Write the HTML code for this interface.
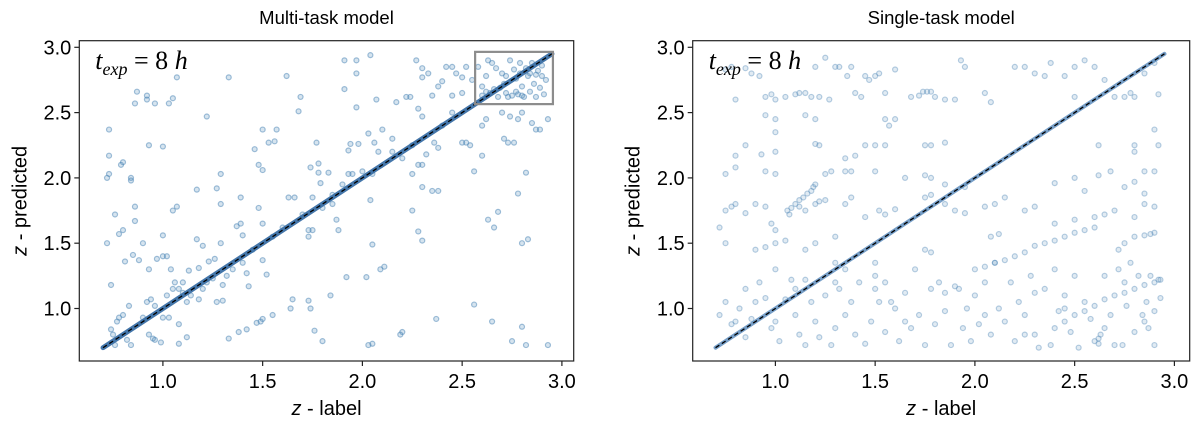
<!DOCTYPE html>
<html><head><meta charset="utf-8"><style>
html,body{margin:0;padding:0;background:#fff;}
svg{display:block;font-family:"Liberation Sans","DejaVu Sans",sans-serif;}
</style></head><body>
<svg id="fig" width="1200" height="423" viewBox="0 0 1200 423"></svg>
<script>
const xTicks=[1.0,1.5,2.0,2.5,3.0];
const yTicks=[1.0,1.5,2.0,2.5,3.0];
const tickLabels=["1.0","1.5","2.0","2.5","3.0"];
const diagRange=[0.7,2.95];
const zoomBox=[2.565,2.955,2.565,2.965];
const multiPts=[[0.72,2.0],[0.73,2.03],[0.73,2.17],[0.73,2.37],[0.76,1.72],[0.74,1.18],[0.79,2.1],[0.8,2.12],[0.84,1.98],[0.84,2.0],[0.86,2.57],[0.87,2.66],[0.92,2.63],[0.92,2.6],[0.96,2.57],[1.03,2.57],[1.05,2.61],[1.07,2.77],[0.93,2.25],[1.0,2.24],[0.86,1.78],[0.86,1.67],[0.78,1.57],[0.8,1.6],[0.72,1.5],[0.81,1.36],[0.85,1.41],[0.88,1.37],[0.9,1.5],[0.93,1.3],[0.97,1.38],[1.0,1.4],[1.02,1.4],[1.0,1.56],[1.05,1.75],[1.07,1.78],[1.04,1.3],[1.06,1.2],[1.08,1.15],[1.1,1.12],[1.0,0.93],[1.03,0.93],[1.08,0.88],[1.12,0.78],[1.08,0.73],[0.96,0.76],[0.93,0.8],[0.95,0.77],[0.99,0.74],[0.84,0.72],[0.83,1.02],[1.13,1.29],[1.18,1.31],[1.17,1.53],[1.2,1.48],[1.22,2.47],[1.17,1.91],[1.27,1.92],[1.29,2.03],[1.29,1.8],[1.29,1.5],[1.33,2.77],[1.23,1.36],[1.25,1.23],[1.3,1.18],[1.3,1.06],[1.27,1.05],[1.33,0.77],[1.38,0.82],[1.42,0.84],[1.39,1.85],[1.39,1.65],[1.4,1.56],[1.37,1.63],[1.42,1.27],[1.43,1.17],[1.46,2.22],[1.48,2.1],[1.5,2.06],[1.5,2.37],[1.53,2.27],[1.56,2.28],[1.57,2.37],[1.48,1.77],[1.5,1.65],[1.5,1.37],[1.52,1.26],[1.55,0.95],[1.49,0.9],[1.5,0.92],[1.47,0.89],[1.63,1.85],[1.66,1.85],[1.65,1.07],[1.64,1.0],[1.62,2.78],[1.69,2.62],[1.68,2.51],[1.73,1.55],[1.73,1.6],[1.75,1.6],[1.73,1.06],[1.74,1.0],[1.76,0.83],[1.8,0.75],[1.84,1.1],[1.77,2.27],[1.78,2.11],[1.74,2.08],[1.78,2.04],[1.79,1.96],[1.83,2.04],[1.85,1.87],[1.87,1.68],[1.88,1.6],[1.92,1.24],[1.91,2.9],[1.91,2.68],[1.97,2.9],[1.97,2.8],[1.97,2.54],[1.94,2.26],[1.98,2.26],[1.93,2.21],[2.02,1.24],[2.03,0.72],[2.05,0.73],[2.04,2.94],[2.07,2.6],[2.03,2.34],[2.06,2.27],[2.08,2.2],[2.1,2.37],[2.04,1.83],[2.05,1.49],[2.09,1.3],[2.11,1.32],[2.19,0.8],[2.2,0.82],[2.15,2.3],[2.17,2.58],[2.22,2.62],[2.24,2.62],[2.25,1.75],[2.28,1.59],[2.3,1.52],[2.3,1.93],[2.25,2.03],[2.28,2.1],[2.3,2.1],[2.32,2.18],[2.27,2.9],[2.3,2.84],[2.3,2.77],[2.33,2.8],[2.28,2.53],[2.3,2.47],[2.35,1.9],[2.38,1.9],[2.37,0.92],[2.36,2.27],[2.38,2.23],[2.35,2.63],[2.38,2.7],[2.4,2.74],[2.42,2.85],[2.45,2.85],[2.47,2.8],[2.5,2.77],[2.45,2.63],[2.5,2.65],[2.52,2.85],[2.55,2.75],[2.5,2.27],[2.52,2.27],[2.54,2.25],[2.56,2.05],[2.56,1.03],[2.63,1.68],[2.66,1.62],[2.68,1.74],[2.65,0.9],[2.71,2.3],[2.73,2.27],[2.76,2.27],[2.78,1.88],[2.82,2.04],[2.8,1.5],[2.83,1.53],[2.8,0.86],[2.75,0.75],[2.82,0.72],[2.93,0.72],[2.6,2.4],[2.62,2.45],[2.6,2.17],[2.7,2.5],[2.74,2.47],[2.78,2.45],[2.8,2.5],[2.85,2.42],[2.87,2.37],[2.89,2.37],[2.93,2.45],
[2.58,2.85],[2.6,2.7],[2.62,2.78],[2.63,2.9],[2.65,2.88],[2.66,2.68],[2.68,2.62],[2.7,2.8],[2.71,2.72],[2.72,2.65],[2.74,2.9],[2.75,2.63],[2.76,2.83],[2.77,2.76],[2.78,2.64],[2.79,2.88],[2.8,2.7],[2.81,2.62],[2.82,2.84],[2.83,2.78],[2.84,2.66],[2.85,2.88],[2.86,2.72],[2.87,2.62],[2.88,2.82],[2.89,2.69],[2.9,2.86],[2.91,2.64],[2.92,2.75],[2.6,2.63],[2.64,2.65],[2.69,2.69],[2.73,2.62],[2.77,2.66],[2.8,2.63],[2.84,2.8],[2.87,2.79],[2.9,2.78],[2.62,2.66],[2.67,2.84],[2.72,2.78],[2.79,2.8],
[0.75,0.8],[0.77,0.9],[0.78,0.93],[0.8,0.95],[0.74,0.84],[0.76,0.72],[0.82,0.76],[0.9,0.93],[0.92,1.05],[0.94,1.07],[0.96,1.02],[1.02,1.1],[1.05,1.15],[1.1,1.2],[1.12,1.05],[1.14,1.1],[1.18,1.07],[1.2,1.15],[1.22,1.2],[1.26,1.38],[1.32,1.25],[1.35,1.3],[1.4,1.35],[1.45,1.45],[1.55,1.55],[1.6,1.62],[1.7,1.72],[1.75,1.85],[1.8,1.77],[1.85,1.8],[1.9,1.95],[1.93,2.03],[1.95,2.03],[2.0,2.05],[2.05,2.03],[2.15,2.2],[2.2,2.15],[2.25,2.25],[2.4,2.4],[2.45,2.5]];
const singlePts=[[0.75,2.83],[0.78,2.85],[0.85,2.84],[0.88,2.8],[0.92,2.78],[0.95,2.62],[0.98,2.64],[1.0,2.6],[0.8,2.6],[1.05,2.62],[1.1,2.64],[1.12,2.65],[1.15,2.65],[1.18,2.62],[1.22,2.62],[1.27,2.6],[1.2,2.85],[1.25,2.92],[1.3,2.85],[1.32,2.85],[1.36,2.78],[1.38,2.85],[1.4,2.65],[1.43,2.62],[1.45,2.78],[1.47,2.75],[1.5,2.78],[1.52,2.8],[1.55,2.65],[1.6,2.83],[1.68,2.62],[1.72,2.63],[1.74,2.66],[1.76,2.66],[1.78,2.66],[1.8,2.62],[1.85,2.6],[1.9,2.6],[1.93,2.9],[1.95,2.85],[2.05,2.65],[2.08,2.58],[2.2,2.85],[2.25,2.85],[2.3,2.8],[2.35,2.78],[2.38,2.88],[2.45,2.78],[2.5,2.85],[2.5,2.62],[2.55,2.9],[2.6,2.85],[2.65,2.75],[2.7,2.62],[2.75,2.62],[2.78,2.65],[2.8,2.62],[2.85,2.8],[2.9,2.88],[2.92,2.64],[1.0,2.45],[0.95,2.48],[1.15,2.48],[1.2,2.45],[1.55,2.45],[1.57,2.4],[1.6,2.45],[1.0,2.35],[2.9,2.37],[2.92,2.25],
[0.85,2.25],[0.8,2.17],[0.93,2.18],[1.0,2.2],[1.2,2.26],[1.22,2.25],[1.35,2.15],[1.4,2.17],[1.45,2.25],[1.5,2.25],[1.55,2.25],[1.75,2.25],[1.78,2.25],[1.85,2.27],[0.75,2.03],[0.8,2.08],[0.95,2.05],[1.0,2.03],[1.25,2.03],[1.28,2.05],[1.35,2.05],[1.38,2.05],[1.5,2.05],[1.65,2.0],[1.75,2.02],[1.78,2.0],[1.85,1.95],[1.95,1.93],[2.4,1.96],[2.5,2.0],[2.55,1.9],[2.62,2.02],[2.68,2.05],[2.75,1.93],[2.8,1.97],[2.85,2.05],[2.9,2.05],[2.8,2.25],[2.8,2.2],[2.62,2.25],[2.85,1.88],
[1.06,1.75],[1.08,1.77],[1.1,1.8],[1.12,1.83],[1.14,1.85],[1.16,1.88],[1.18,1.9],[1.19,1.93],[1.2,1.95],[1.07,1.72],[1.12,1.78],[1.15,1.75],[1.2,1.8],[1.22,1.82],[1.25,1.83],
[0.75,1.75],[0.78,1.78],[0.8,1.8],[0.85,1.73],[0.9,1.8],[0.95,1.78],[0.98,1.65],[1.0,1.6],[0.72,1.62],[0.75,1.5],[0.9,1.45],[0.95,1.47],[1.0,1.5],[1.05,1.52],[1.15,1.45],[1.2,1.5],[1.3,1.55],[1.35,1.8],[1.38,1.85],[1.45,1.7],[1.52,1.75],[1.55,1.72],[1.6,1.76],[1.75,1.85],[1.78,1.87],[1.85,1.8],[1.9,1.75],[1.95,1.73],[2.05,1.78],[2.1,1.8],[2.15,1.85],[2.25,1.75],[2.3,1.78],[2.4,1.65],[2.5,1.68],[2.6,1.7],[2.65,1.72],[2.7,1.75],[2.8,1.7],[2.85,1.8],[2.9,1.78],[2.8,1.55],[2.85,1.56],[2.88,1.57],[2.9,1.58],[2.75,1.5],[2.72,1.45],[1.3,1.35],[1.5,1.35],[1.75,1.45],[1.78,1.43],
[2.0,1.3],[2.05,1.32],[2.1,1.35],[2.15,1.37],[2.2,1.4],[2.25,1.43],[2.3,1.48],[2.35,1.5],[2.4,1.52],[2.45,1.55],[2.5,1.58],[2.55,1.6],[2.6,1.62],[2.12,1.57],[2.08,1.55],
[2.3,0.8],[2.4,0.85],[2.45,0.9],[2.5,0.95],[2.55,0.98],[2.6,1.02],[2.65,1.07],[2.7,1.1],[2.75,1.12],[2.8,1.15],[2.85,1.18],[2.9,1.2],[2.93,1.22],
[0.72,0.95],[0.75,1.05],[0.78,0.88],[0.8,0.9],[0.82,1.0],[0.85,1.15],[0.88,0.92],[0.9,1.05],[0.92,1.2],[0.95,1.08],[0.98,0.85],[1.0,1.3],[1.02,0.75],[1.05,1.07],[1.08,1.22],[1.1,0.95],[1.12,0.8],[1.15,1.22],[1.18,1.05],[1.2,0.9],[1.22,0.78],[1.25,1.1],[1.28,0.72],[1.3,0.85],[1.32,1.15],[1.35,0.95],[1.38,1.05],[1.4,0.8],[1.42,1.2],[1.45,0.73],[1.48,0.9],[1.5,1.25],[1.52,1.05],[1.55,0.82],[1.58,1.05],[1.6,1.0],[1.62,0.75],[1.65,1.12],[1.68,0.85],[1.7,1.3],[1.72,0.95],[1.75,0.72],[1.78,1.15],[1.8,0.88],[1.82,1.2],[1.85,0.98],[1.88,0.72],[1.9,1.17],[1.92,1.15],[1.94,0.85],[1.96,1.0],[1.98,0.75],[2.0,1.1],[2.02,0.88],[2.05,1.2],[2.08,0.8],[2.1,1.35],[2.12,1.0],[2.15,0.9],[2.18,1.2],[2.2,0.75],[2.22,1.05],[2.25,0.95],[2.28,1.25],[2.3,1.12],[2.32,0.7],[2.35,1.15],[2.38,0.72],[2.4,1.3],[2.42,0.98],[2.45,1.1],[2.48,0.82],[2.5,1.25],[2.52,0.7],[2.55,1.05],[2.58,0.92],[2.6,0.75],[2.62,0.73],[2.62,0.77],[2.63,0.8],[2.65,1.25],[2.68,0.95],[2.7,0.72],[2.72,1.3],[2.74,0.72],[2.76,1.02],[2.78,1.35],[2.8,0.82],[2.82,1.25],[2.84,0.95],[2.85,0.9],[2.86,1.05],[2.87,0.85],[2.88,1.25],[2.9,0.98],[2.92,1.22],[2.93,1.08],[2.9,0.72],[1.1,1.15],[1.3,1.2],[1.5,1.15],[0.85,0.78],[1.0,0.9],[1.15,0.72],[1.35,1.3],[1.55,1.2],[1.65,0.9],[1.85,1.12],[2.05,0.95],[2.25,0.8],[2.45,1.0],[2.65,0.85],[2.75,1.2]];

const NS="http://www.w3.org/2000/svg";
const svg=document.getElementById('fig');
function mk(tag,attrs,parent,text){const e=document.createElementNS(NS,tag);for(const k in attrs)e.setAttribute(k,attrs[k]);if(text!==undefined)e.textContent=text;parent.appendChild(e);return e;}

function drawPanel(cfg){
  const g=mk('g',{},svg);
  
  
  const X=v=>cfg.x1+(v-1)*199.5;
  const Y=v=>308.5-(v-1)*130.6;
  const L=cfg.left,R=cfg.right,T=40.7,B=361;
  const pg=mk('g',{},g);
  
  
  cfg.pts.forEach(p=>{
    const c=mk('circle',{cx:X(p[0]),cy:Y(p[1]),r:2.5,fill:'#4682b4','fill-opacity':cfg.fo,stroke:'#4682b4','stroke-opacity':cfg.so,'stroke-width':1.2},pg);
    
    
  });
  const band=mk('line',{x1:X(diagRange[0]),y1:Y(diagRange[0]),x2:X(diagRange[1]),y2:Y(diagRange[1]),stroke:cfg.bandColor,'stroke-width':cfg.bandW,'stroke-opacity':cfg.bandOp,'stroke-linecap':'round'},g);
  
  
  const dl=mk('line',{x1:X(diagRange[0]),y1:Y(diagRange[0]),x2:X(diagRange[1]),y2:Y(diagRange[1]),stroke:'#000','stroke-width':1.3,'stroke-dasharray':'4.5,3'},g);
  
  
  if(cfg.box){
    const b=mk('rect',{x:X(zoomBox[0]),y:Y(zoomBox[3]),width:X(zoomBox[1])-X(zoomBox[0]),height:Y(zoomBox[2])-Y(zoomBox[3]),fill:'none',stroke:'#8c8c8c','stroke-width':2.2},g);
    
    
  }
  const fr=mk('rect',{x:L,y:T,width:R-L,height:B-T,fill:'none',stroke:'#222','stroke-width':1.2},g);
  
  
  xTicks.forEach((v,i)=>{
    const t=mk('line',{x1:X(v),y1:B,x2:X(v),y2:B+5,stroke:'#222','stroke-width':1.2},g);
    
    
    const tl=mk('text',{x:X(v),y:388,'text-anchor':'middle','font-size':20,fill:'#000'},g,tickLabels[i]);
    
    
  });
  yTicks.forEach((v,i)=>{
    const t=mk('line',{x1:L-5,y1:Y(v),x2:L,y2:Y(v),stroke:'#222','stroke-width':1.2},g);
    
    
    const tl=mk('text',{x:L-8,y:Y(v)+7,'text-anchor':'end','font-size':20,fill:'#000'},g,tickLabels[i]);
    
    
  });
  const title=mk('text',{x:(L+R)/2,y:24,'text-anchor':'middle','font-size':18.5,fill:'#000'},g,cfg.title);
  
  
  const xl=mk('text',{x:(L+R)/2,y:415,'text-anchor':'middle','font-size':20,fill:'#000'},g);
  
  
  mk('tspan',{'font-style':'italic'},xl,'z');mk('tspan',{},xl,' - label');
  const yx=L-53, yc=(T+B)/2;
  const yl=mk('text',{x:yx,y:yc,'text-anchor':'middle','font-size':20,fill:'#000',transform:`rotate(-90 ${yx} ${yc})`},g);
  
  
  mk('tspan',{'font-style':'italic'},yl,'z');mk('tspan',{},yl,' - predicted');
  const an=mk('text',{x:L+16,y:69,'font-size':26,'font-family':'"Liberation Serif",serif',fill:'#000'},g);
  
  
  mk('tspan',{'font-style':'italic'},an,'t');
  mk('tspan',{'font-style':'italic','font-size':18,dy:6},an,'exp');
  mk('tspan',{dy:-6},an,' = 8 ');
  mk('tspan',{'font-style':'italic'},an,'h');
}
drawPanel({name:'multi-task-panel',title:'Multi-task model',x1:162.9,left:79.3,right:573.7,pts:multiPts,fo:0.22,so:0.5,bandColor:'#3a6fa5',bandW:5,bandOp:0.95,box:true});
drawPanel({name:'single-task-panel',title:'Single-task model',x1:775.4,left:692.7,right:1189.7,pts:singlePts,fo:0.16,so:0.38,bandColor:'#4a7fb5',bandW:4,bandOp:0.75,box:false});
</script>
</body></html>
